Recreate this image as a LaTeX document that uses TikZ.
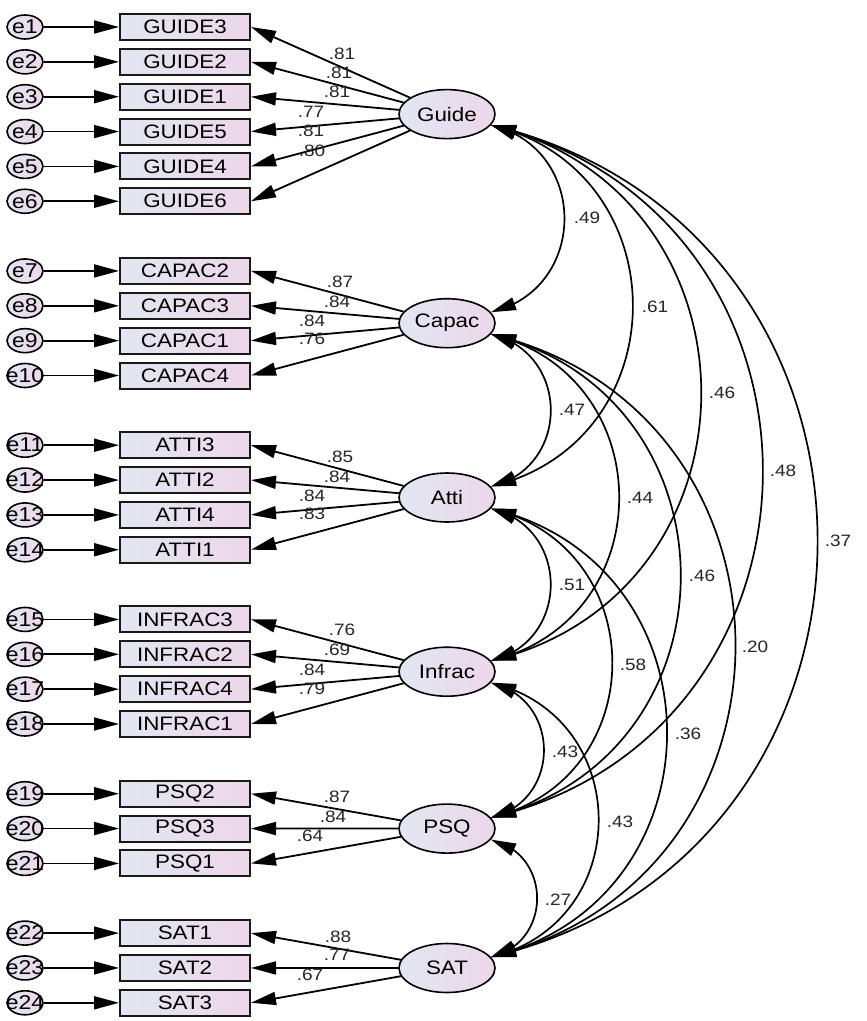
\documentclass[tikz,border=0pt]{standalone}
\usepackage{fontspec}
\setmainfont[FakeStretch=1.15]{Liberation Sans}
\usetikzlibrary{arrows.meta,shapes.geometric,bending}
\definecolor{cL}{RGB}{226,231,241}
\definecolor{cR}{RGB}{237,215,234}
\begin{document}
\begin{tikzpicture}[x=1pt,y=1pt,
  obs/.style={draw=black!90, line width=2pt, rectangle, minimum width=130pt, minimum height=26pt, inner sep=0pt, left color=cL, right color=cR, font=\fontsize{19.5}{21}\selectfont},
  lat/.style={draw, ellipse, line width=1.6pt, minimum width=96pt, minimum height=49pt, inner sep=0pt, left color=cL, right color=cR, font=\fontsize{19.5}{21}\selectfont},
  err/.style={draw, ellipse, line width=1.6pt, minimum width=36pt, minimum height=24pt, inner sep=0pt, left color=cL, right color=cR},
  elab/.style={font=\fontsize{20}{21}\selectfont, inner sep=0pt},
  arr/.style={-{Triangle[length=25pt,width=13pt]}, line width=1.8pt},
  cov/.style={{Triangle[length=25pt,width=13pt]}-{Triangle[length=25pt,width=13pt]}, line width=1.7pt},
  ld/.style={font=\fontsize{16.5}{17}\selectfont, inner sep=0pt, text=black!85}
]
\useasboundingbox (0,0) rectangle (867,-1021);

% observed variables and errors
\foreach \n/\lab/\k in {1/GUIDE3/0,2/GUIDE2/1,3/GUIDE1/2,4/GUIDE5/3,5/GUIDE4/4,6/GUIDE6/5,
  7/CAPAC2/7,8/CAPAC3/8,9/CAPAC1/9,10/CAPAC4/10,
  11/ATTI3/12,12/ATTI2/13,13/ATTI4/14,14/ATTI1/15,
  15/INFRAC3/17,16/INFRAC2/18,17/INFRAC4/19,18/INFRAC1/20,
  19/PSQ2/22,20/PSQ3/23,21/PSQ1/24,
  22/SAT1/26,23/SAT2/27,24/SAT3/28}{
  \node[obs] (v\n) at (185,{-27-34.85*\k}) {\lab};
  \node[err, label={[elab]center:e\n}] (e\n) at (25,{-27-34.85*\k}) {};
  \draw[arr] (e\n) -- (v\n.west);
}

% latent variables
\node[lat] (G) at (447,-114.1) {Guide};
\node[lat] (C) at (447,-323.2) {Capac};
\node[lat] (A) at (447,-497.5) {Atti};
\node[lat] (I) at (447,-671.7) {Infrac};
\node[lat] (P) at (447,-828.6) {PSQ};
\node[lat] (S) at (447,-968.0) {SAT};

% loadings
\foreach \n/\l in {1/G,2/G,3/G,4/G,5/G,6/G,7/C,8/C,9/C,10/C,11/A,12/A,13/A,14/A,
  15/I,16/I,17/I,18/I,19/P,20/P,21/P,22/S,23/S,24/S}{
  \draw[arr] (\l) -- (v\n.east);
}
\foreach \n/\t/\x/\y in {1/.81/342/54,2/.81/339/73,3/.81/337/92,4/.77/311/112,5/.81/311/131,6/.80/312/151,
  7/.87/340/282,8/.84/337/302,9/.84/312/321,10/.76/312/339,
  11/.85/340/457,12/.84/337/477,13/.84/312/496,14/.83/312/514,
  15/.76/342/630,16/.69/337/650,17/.84/312/670,18/.79/312/689,
  19/.87/337/797,20/.84/333/817,21/.64/310/836,
  22/.88/338/937,23/.77/337/955,24/.67/310/975}{
  \node[ld] (l\n) at (\x,-\y) {\t};
}

% covariances
\foreach \u/\w/\t/\x/\y in {G/C/.49/587/218, G/A/.61/655/307, G/I/.46/722/393, G/P/.48/783/471, G/S/.37/838/541,
  C/A/.47/572/410, C/I/.44/640/498, C/P/.46/702/576, C/S/.20/755/647,
  A/I/.51/572/585, A/P/.58/633/665, A/S/.36/688/734,
  I/P/.43/565/752, I/S/.43/620/822,
  P/S/.27/558/900}{
  \draw[cov] (\u.-14) to[out=-13.4,in=13.4,looseness=1.38] (\w.14);
  \node[ld] (c\u\w) at (\x,-\y) {\t};
}
\end{tikzpicture}
\end{document}
